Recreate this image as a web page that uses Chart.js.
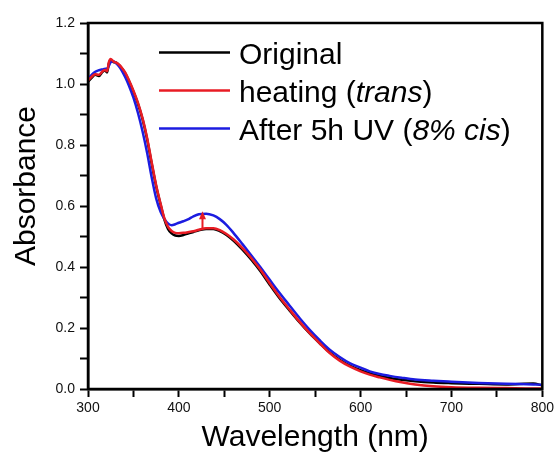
<!DOCTYPE html>
<html>
<head>
<meta charset="utf-8">
<script src="https://cdn.jsdelivr.net/npm/chart.js@4/dist/chart.umd.min.js"></script>
<style>
  body { margin: 0; background: #fff; }
</style>
</head>
<body>
<canvas id="absorbance-chart" width="557" height="454"></canvas>
<script>
// spectra (nm / absorbance)
var wavelengths = [300, 304, 308, 312, 316, 319, 321, 323, 325, 328, 331, 334, 337, 341, 345, 350, 355, 360, 365, 370,
                   375, 380, 384, 388, 392, 396, 400, 405, 410, 416, 422, 430, 438, 445, 452, 460, 470, 480, 490, 500,
                   510, 522, 533, 544, 555, 566, 577, 588, 600, 610, 621, 632, 645, 660, 680, 700, 730, 760, 790, 800];

var originalAbs = [1.008, 1.020, 1.030, 1.026, 1.040, 1.044, 1.038, 1.068, 1.078, 1.072, 1.070, 1.062, 1.052, 1.035, 1.010, 0.975, 0.935, 0.885, 0.820, 0.740,
                   0.665, 0.603, 0.556, 0.525, 0.510, 0.503, 0.502, 0.505, 0.510, 0.515, 0.520, 0.525, 0.525, 0.518, 0.506, 0.487, 0.457, 0.423, 0.385, 0.342,
                   0.301, 0.257, 0.218, 0.182, 0.150, 0.120, 0.096, 0.077, 0.062, 0.052, 0.043, 0.036, 0.030, 0.025, 0.021, 0.019, 0.017, 0.015, 0.018, 0.012];

var heatingAbs = [1.012, 1.024, 1.032, 1.030, 1.042, 1.046, 1.042, 1.072, 1.082, 1.074, 1.070, 1.064, 1.054, 1.037, 1.013, 0.978, 0.938, 0.888, 0.824, 0.745,
                  0.668, 0.606, 0.560, 0.532, 0.518, 0.512, 0.511, 0.512, 0.514, 0.517, 0.522, 0.527, 0.527, 0.521, 0.509, 0.491, 0.462, 0.428, 0.390, 0.347,
                  0.305, 0.260, 0.220, 0.183, 0.150, 0.118, 0.093, 0.074, 0.058, 0.047, 0.038, 0.030, 0.022, 0.015, 0.009, 0.006, 0.004, 0.003, 0.002, 0.002];

var uvAbs = [1.016, 1.030, 1.040, 1.045, 1.048, 1.050, 1.050, 1.060, 1.072, 1.075, 1.068, 1.058, 1.045, 1.022, 0.995, 0.955, 0.905, 0.845, 0.775, 0.695,
             0.625, 0.580, 0.558, 0.543, 0.537, 0.540, 0.545, 0.550, 0.556, 0.566, 0.573, 0.575, 0.569, 0.557, 0.539, 0.512, 0.475, 0.437, 0.398, 0.358,
             0.318, 0.273, 0.232, 0.194, 0.160, 0.129, 0.105, 0.085, 0.070, 0.058, 0.049, 0.043, 0.037, 0.031, 0.027, 0.024, 0.020, 0.017, 0.015, 0.014];

var seriesColors = ['#000000', '#e81c24', '#1c1ce0'];

// legend texts, [text, italic]
var legendLabels = [
    [['Original', false]],
    [['heating (', false], ['trans', true], [')', false]],
    [['After 5h UV (', false], ['8% cis', true], [')', false]]
];

// red arrow at the 430 nm band
var arrowWavelength = 426;
var arrowFrom = 0.527;
var arrowTo = 0.583;

var fontFamily = '"Liberation Sans", Arial, Helvetica, sans-serif';

function toPoints(ys) {
    return wavelengths.map(function (w, i) { return { x: w, y: ys[i] }; });
}

var decorations = {
    id: 'decorations',
    afterDraw: function (chart) {
        var ctx = chart.ctx;
        var area = chart.chartArea;
        var xs = chart.scales.x;
        var ys = chart.scales.y;
        ctx.save();

        // frame
        ctx.strokeStyle = '#000';
        ctx.lineWidth = 2.5;
        ctx.strokeRect(area.left, area.top, area.right - area.left, area.bottom - area.top);

        // arrow
        var ax = xs.getPixelForValue(arrowWavelength);
        var ay0 = ys.getPixelForValue(arrowFrom);
        var ay1 = ys.getPixelForValue(arrowTo);
        ctx.strokeStyle = seriesColors[1];
        ctx.fillStyle = seriesColors[1];
        ctx.lineWidth = 2;
        ctx.beginPath();
        ctx.moveTo(ax, ay0);
        ctx.lineTo(ax, ay1 + 6);
        ctx.stroke();
        ctx.beginPath();
        ctx.moveTo(ax, ay1);
        ctx.lineTo(ax - 3.5, ay1 + 8);
        ctx.lineTo(ax + 3.5, ay1 + 8);
        ctx.closePath();
        ctx.fill();

        // legend
        var rowY = [52.5, 90.5, 128.5];
        ctx.lineWidth = 2.5;
        ctx.textBaseline = 'alphabetic';
        ctx.textAlign = 'left';
        for (var i = 0; i < legendLabels.length; i++) {
            ctx.strokeStyle = seriesColors[i];
            ctx.beginPath();
            ctx.moveTo(159, rowY[i]);
            ctx.lineTo(230, rowY[i]);
            ctx.stroke();
            var tx = 239;
            ctx.fillStyle = '#000';
            legendLabels[i].forEach(function (part) {
                ctx.font = (part[1] ? 'italic ' : '') + '30px ' + fontFamily;
                ctx.fillText(part[0], tx, rowY[i] + 11);
                tx += ctx.measureText(part[0]).width;
            });
        }

        // axis titles
        ctx.fillStyle = '#000';
        ctx.font = '30px ' + fontFamily;
        ctx.textAlign = 'center';
        ctx.fillText('Wavelength (nm)', (area.left + area.right) / 2, 446);
        ctx.translate(35, 186);
        ctx.rotate(-Math.PI / 2);
        ctx.fillText('Absorbance', 0, 0);
        ctx.restore();
    }
};

var context = document.getElementById('absorbance-chart');
new Chart(context, {
    type: 'line',
    data: {
        datasets: [{
            label: 'heating (trans)',
            data: toPoints(heatingAbs),
            borderColor: seriesColors[1],
            order: 0
        }, {
            label: 'After 5h UV (8% cis)',
            data: toPoints(uvAbs),
            borderColor: seriesColors[2],
            order: 1
        }, {
            label: 'Original',
            data: toPoints(originalAbs),
            borderColor: seriesColors[0],
            order: 2
        }]
    },
    options: {
        responsive: false,
        animation: false,
        layout: { padding: { top: 23, right: 14, left: 0, bottom: 0 } },
        elements: {
            point: { radius: 0 },
            line: { borderWidth: 2.5, cubicInterpolationMode: 'monotone' }
        },
        plugins: {
            legend: { display: false },
            tooltip: { enabled: false }
        },
        scales: {
            x: {
                type: 'linear',
                min: 300,
                max: 800,
                afterFit: function (scale) { scale.height = 65; },
                grid: { drawOnChartArea: false, tickLength: 8, tickColor: '#000', tickWidth: 2 },
                border: { color: '#000', width: 2.5 },
                ticks: {
                    stepSize: 50,
                    autoSkip: false,
                    maxRotation: 0,
                    padding: 3,
                    color: '#111',
                    font: { family: fontFamily, size: 14 },
                    callback: function (v) { return v % 100 === 0 ? String(v) : ''; }
                }
            },
            y: {
                min: 0,
                max: 1.2,
                afterFit: function (scale) { scale.width = 88; },
                grid: { drawOnChartArea: false, tickLength: 8, tickColor: '#000', tickWidth: 2 },
                border: { color: '#000', width: 2.5 },
                ticks: {
                    stepSize: 0.1,
                    autoSkip: false,
                    padding: 5,
                    color: '#111',
                    font: { family: fontFamily, size: 14 },
                    callback: function (v) {
                        var k = Math.round(v * 10);
                        return k % 2 === 0 ? (k / 10).toFixed(1) : '';
                    }
                }
            }
        }
    },
    plugins: [decorations]
});
</script>
</body>
</html>
